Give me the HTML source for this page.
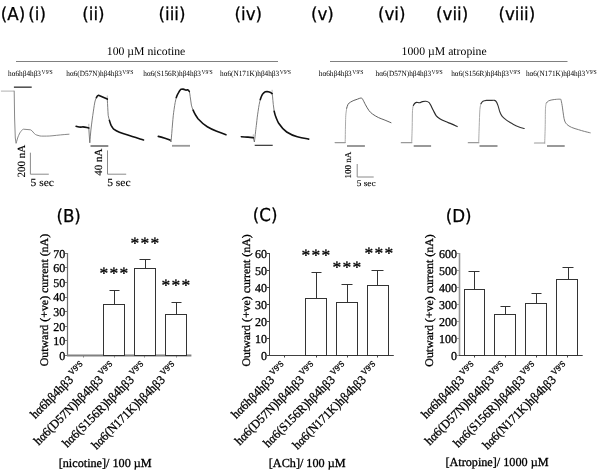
<!DOCTYPE html>
<html><head><meta charset="utf-8"><title>Figure</title>
<style>
html,body{margin:0;padding:0;background:#fff;overflow:hidden;width:600px;height:474px;}
svg{display:block;}
text{fill:#000;text-rendering:geometricPrecision;}
.tk,.yt,.xl,.xt{stroke:#000;stroke-width:0.3px;}
.sb{stroke:#000;stroke-width:0.12px;}
.pl{font-family:"DejaVu Sans", "Liberation Sans", sans-serif;stroke:#000;stroke-width:0.25px;}
.hd,.sl,.sb,.tk,.st,.xl,.yt,.xt{font-family:"Liberation Serif", "Times New Roman", serif;}
.sup{font-size:6.2px;}
.tk{font-size:12px;}
.st{font-size:17.5px;letter-spacing:1.3px;stroke:#000;stroke-width:0.3px;}
.xl{font-size:12.4px;}
.xsup{font-size:8.5px;}
</style></head>
<body>
<svg width="600" height="474" viewBox="0 0 600 474">
<rect width="600" height="474" fill="#fff"/>
<line x1="16" y1="61.5" x2="278" y2="61.5" stroke="#808080" stroke-width="1"/>
<line x1="330" y1="61.5" x2="567.5" y2="61.5" stroke="#808080" stroke-width="1"/>
<path d="M1.3,91.1 L13.7,91.1" fill="none" stroke="#b0b0b0" stroke-width="1" stroke-linejoin="round" stroke-linecap="round"/>
<path d="M14.2,91.1 L14.6,118 L15.3,138 L16.1,143.3 C16.8,141 17.8,137 18.7,135.3 C19.5,133.5 20.3,132 21,131.3 C21.8,130.2 22.5,129.4 23.5,129.2 L30.5,129.8 C31.5,130.3 32.3,131 33,132 C34,133.2 34.6,134 35.5,134.5 C36.5,135 37,135.2 38,135.4 C39.5,136 40.5,136.1 41.5,136.1 C45,136.1 48,136.2 52,135.8 C58,135.2 63,134.6 69,134.2" fill="none" stroke="#7a7a7a" stroke-width="0.9" stroke-linejoin="round" stroke-linecap="round"/>
<path d="M13.9,87.2 L31.7,87.2" fill="none" stroke="#555" stroke-width="1.6" stroke-linejoin="round" stroke-linecap="butt"/>
<path d="M88.8,128 L88.8,124.2" fill="none" stroke="#aaa" stroke-width="0.8" stroke-linejoin="round" stroke-linecap="round"/>
<path d="M107.3,99.1 L107.3,95.9" fill="none" stroke="#aaa" stroke-width="0.8" stroke-linejoin="round" stroke-linecap="round"/>
<path d="M88.8,128 L89.3,136 L89.8,142.8 C90.2,138 90.5,134 90.9,130 C91.7,123 92.5,117 93.4,111.1 C94,107 94.5,103.5 95.1,101 C95.5,99.5 95.9,98.5 96.4,97.6" fill="none" stroke="#6e6e6e" stroke-width="0.9" stroke-linejoin="round" stroke-linecap="round"/>
<path d="M107.3,99.1 C107.6,105 107.9,111 108.2,115.3 C108.6,117.5 109,119 109.4,120.4" fill="none" stroke="#6e6e6e" stroke-width="0.9" stroke-linejoin="round" stroke-linecap="round"/>
<path d="M76.1,126.3 C78,126.8 80,127.5 82,127 C84,126.6 86,127.4 88.8,128" fill="none" stroke="#111" stroke-width="1.6" stroke-linejoin="round" stroke-linecap="round"/>
<path d="M96.4,97.6 C97,96.3 97.7,95.3 98.5,95.2 L107.3,99.1" fill="none" stroke="#111" stroke-width="1.6" stroke-linejoin="round" stroke-linecap="round"/>
<path d="M109.4,120.4 C110,122.5 110.5,124 111.1,125.4 C112,127 112.8,128.3 113.7,129.2 C117,131.5 121,133.2 127,134.8 C132,136.5 138,138.3 143.5,140" fill="none" stroke="#111" stroke-width="1.6" stroke-linejoin="round" stroke-linecap="round"/>
<path d="M90.5,146 L108.3,146" fill="none" stroke="#8a8a8a" stroke-width="2" stroke-linejoin="round" stroke-linecap="butt"/>
<path d="M170,140 L171,142 C171.5,137 172,130 172.5,124 C173,118 173.5,113 174.1,109.3 C174.8,104 175.5,100.5 176.3,97.5" fill="none" stroke="#6e6e6e" stroke-width="0.9" stroke-linejoin="round" stroke-linecap="round"/>
<path d="M189.3,91.2 C189.7,93 190,95 190.2,96.7 C190.6,99.5 191,102.5 191.4,105.1 C191.9,107 192.4,108.7 193.1,110.2" fill="none" stroke="#6e6e6e" stroke-width="0.9" stroke-linejoin="round" stroke-linecap="round"/>
<path d="M158.3,136.4 C161,137 163,137.6 165,138.2 C167,138.8 168.5,139.3 170,140" fill="none" stroke="#111" stroke-width="1.6" stroke-linejoin="round" stroke-linecap="round"/>
<path d="M176.3,97.5 C177,95.5 177.6,94.2 178.4,92.9 C179.2,91.4 180,90.2 180.9,89.3 L183,89.1 C184.5,89.3 185.3,90.1 186,90.1 C186.6,90 187,89.7 187.6,89.8 C188.4,90.1 188.9,90.7 189.3,91.5" fill="none" stroke="#111" stroke-width="1.6" stroke-linejoin="round" stroke-linecap="round"/>
<path d="M193.1,110.2 C194,112 194.8,113.8 195.7,115.2 C196.5,116.5 197.2,117.7 198,118.7 C201,122 204,124.8 207.3,126.7 C210.5,128.6 213.5,130 216.7,131.3 C220,132.6 223,133.7 226,134.7" fill="none" stroke="#111" stroke-width="1.6" stroke-linejoin="round" stroke-linecap="round"/>
<path d="M172,145.8 L190,145.8" fill="none" stroke="#999" stroke-width="1.8" stroke-linejoin="round" stroke-linecap="butt"/>
<path d="M253.3,137.7 L253.3,134.7" fill="none" stroke="#aaa" stroke-width="0.8" stroke-linejoin="round" stroke-linecap="round"/>
<path d="M272.1,93.6 L272.1,90.2" fill="none" stroke="#aaa" stroke-width="0.8" stroke-linejoin="round" stroke-linecap="round"/>
<path d="M253.3,137.7 L254.4,142 C255.2,135 256,128 256.5,124 C257,119 257.5,115 258.1,111.3 C258.8,106 259.5,102.5 260.3,99.5" fill="none" stroke="#6e6e6e" stroke-width="0.9" stroke-linejoin="round" stroke-linecap="round"/>
<path d="M272.1,93.6 C272.3,94.5 272.4,95.3 272.5,96.1 C272.8,99 273,102 273.3,104.6 C273.6,107 273.9,109.3 274.2,111.3" fill="none" stroke="#6e6e6e" stroke-width="0.9" stroke-linejoin="round" stroke-linecap="round"/>
<path d="M241.3,136.7 C244,137 246,137.2 248,137.1 C250,137.1 251.5,137.4 253.3,137.7" fill="none" stroke="#111" stroke-width="1.6" stroke-linejoin="round" stroke-linecap="round"/>
<path d="M260.3,99.5 C260.9,97.5 261.6,95.8 262.4,94.4 C263.3,93 264.2,92.2 265.3,91.7 C266,91.5 266.5,91.5 267,91.5 C268,91.7 269,92 270,92.3 C270.8,92.7 271.5,93.1 272.1,93.6" fill="none" stroke="#111" stroke-width="1.6" stroke-linejoin="round" stroke-linecap="round"/>
<path d="M274.2,111.3 C274.8,114 275.5,116.3 276.3,118.1 C277,119.8 277.8,121.8 278.7,123.3 C281,126.8 283.5,129.8 286.7,132 C290,134.2 293.5,135.7 297.3,136.7 C301,137.7 305,138.4 308.7,139.1" fill="none" stroke="#111" stroke-width="1.6" stroke-linejoin="round" stroke-linecap="round"/>
<path d="M254.7,145.3 L272.7,145.3" fill="none" stroke="#222" stroke-width="1.1" stroke-linejoin="round" stroke-linecap="butt"/>
<path d="M335.1,142.6 L345.2,142.6" fill="none" stroke="#999" stroke-width="1.2" stroke-linejoin="round" stroke-linecap="round"/>
<path d="M345.20,142.60 C345.25,139.67 345.40,129.57 345.50,125.00 C345.60,120.43 345.60,118.00 345.80,115.20 C346.00,112.40 346.55,109.37 346.70,108.20" fill="none" stroke="#a0a0a0" stroke-width="0.9" stroke-linejoin="round" stroke-linecap="round"/>
<path d="M346.70,108.20 C346.93,107.53 347.48,105.20 348.10,104.20 C348.72,103.20 349.43,102.83 350.40,102.20 C351.37,101.57 352.73,100.90 353.90,100.40 C355.07,99.90 356.23,99.60 357.40,99.20 C358.57,98.80 360.03,98.00 360.90,98.00 C361.77,98.00 361.83,98.07 362.60,99.20 C363.37,100.33 364.43,102.90 365.50,104.80 C366.57,106.70 367.83,109.07 369.00,110.60 C370.17,112.13 370.95,112.85 372.50,114.00 C374.05,115.15 376.37,116.53 378.30,117.50 C380.23,118.47 381.98,118.93 384.10,119.80 C386.22,120.67 389.85,122.22 391.00,122.70" fill="none" stroke="#606060" stroke-width="1.0" stroke-linejoin="round" stroke-linecap="round"/>
<path d="M347,146 L364.9,146" fill="none" stroke="#999" stroke-width="2" stroke-linejoin="round" stroke-linecap="butt"/>
<path d="M401.3,142.7 L411.7,142.7" fill="none" stroke="#999" stroke-width="1.2" stroke-linejoin="round" stroke-linecap="round"/>
<path d="M411.70,142.70 C411.78,140.05 412.07,132.15 412.20,126.80 C412.33,121.45 412.30,114.18 412.50,110.60 C412.70,107.02 413.25,106.18 413.40,105.30" fill="none" stroke="#a0a0a0" stroke-width="0.9" stroke-linejoin="round" stroke-linecap="round"/>
<path d="M413.40,105.30 C413.65,104.97 414.37,103.78 414.90,103.30 C415.43,102.82 415.83,102.50 416.60,102.40 C417.37,102.30 418.53,102.83 419.50,102.70 C420.47,102.57 421.33,101.83 422.40,101.60 C423.47,101.37 424.83,101.17 425.90,101.30 C426.97,101.43 428.03,101.82 428.80,102.40 C429.57,102.98 429.73,103.43 430.50,104.80 C431.27,106.17 432.43,108.77 433.40,110.60 C434.37,112.43 435.23,114.45 436.30,115.80 C437.37,117.15 438.25,117.73 439.80,118.70 C441.35,119.67 443.67,120.73 445.60,121.60 C447.53,122.47 449.47,123.07 451.40,123.90 C453.33,124.73 456.23,126.15 457.20,126.60" fill="none" stroke="#2a2a2a" stroke-width="1.15" stroke-linejoin="round" stroke-linecap="round"/>
<path d="M413.7,146 L431.1,146" fill="none" stroke="#999" stroke-width="2" stroke-linejoin="round" stroke-linecap="butt"/>
<path d="M468.3,142.7 L478.7,142.7" fill="none" stroke="#999" stroke-width="1.2" stroke-linejoin="round" stroke-linecap="round"/>
<path d="M478.70,142.70 C478.78,140.05 479.00,132.35 479.20,126.80 C479.40,121.25 479.60,113.27 479.90,109.40 C480.20,105.53 480.82,104.57 481.00,103.60" fill="none" stroke="#a0a0a0" stroke-width="0.9" stroke-linejoin="round" stroke-linecap="round"/>
<path d="M481.00,103.60 C481.33,103.22 482.08,101.83 483.00,101.30 C483.92,100.77 485.23,100.55 486.50,100.40 C487.77,100.25 489.25,100.40 490.60,100.40 C491.95,100.40 493.63,100.15 494.60,100.40 C495.57,100.65 495.82,100.98 496.40,101.90 C496.98,102.82 497.53,104.27 498.10,105.90 C498.67,107.53 499.12,109.95 499.80,111.70 C500.48,113.45 501.03,114.95 502.20,116.40 C503.37,117.85 505.07,119.15 506.80,120.40 C508.53,121.65 510.67,122.83 512.60,123.90 C514.53,124.97 516.47,126.03 518.40,126.80 C520.33,127.57 523.23,128.22 524.20,128.50" fill="none" stroke="#353535" stroke-width="1.1" stroke-linejoin="round" stroke-linecap="round"/>
<path d="M479.5,146 L497.5,146" fill="none" stroke="#999" stroke-width="2" stroke-linejoin="round" stroke-linecap="butt"/>
<path d="M534.5,143 L544.7,143" fill="none" stroke="#999" stroke-width="1.2" stroke-linejoin="round" stroke-linecap="round"/>
<path d="M544.70,143.00 C544.78,140.30 545.07,132.60 545.20,126.80 C545.33,121.00 545.30,112.17 545.50,108.20 C545.70,104.23 546.25,103.87 546.40,103.00" fill="none" stroke="#a0a0a0" stroke-width="0.9" stroke-linejoin="round" stroke-linecap="round"/>
<path d="M546.40,103.00 C546.73,102.67 547.48,101.52 548.40,101.00 C549.32,100.48 550.53,100.18 551.90,99.90 C553.27,99.62 555.15,99.40 556.60,99.30 C558.05,99.20 559.83,99.07 560.60,99.30 C561.37,99.53 560.90,99.40 561.20,100.70 C561.50,102.00 562.02,104.68 562.40,107.10 C562.78,109.52 563.12,112.88 563.50,115.20 C563.88,117.52 564.12,119.45 564.70,121.00 C565.28,122.55 565.85,123.43 567.00,124.50 C568.15,125.57 569.67,126.53 571.60,127.40 C573.53,128.27 576.47,129.03 578.60,129.70 C580.73,130.37 582.47,130.88 584.40,131.40 C586.33,131.92 589.23,132.57 590.20,132.80" fill="none" stroke="#747474" stroke-width="0.95" stroke-linejoin="round" stroke-linecap="round"/>
<path d="M547,146 L564.7,146" fill="none" stroke="#999" stroke-width="2" stroke-linejoin="round" stroke-linecap="butt"/>
<path d="M30.4,152.7 L30.4,174.2 L48.8,174.2" fill="none" stroke="#8a8a8a" stroke-width="1"/>
<path d="M107.5,150.4 L107.5,174.2 L126.2,174.2" fill="none" stroke="#8a8a8a" stroke-width="1"/>
<path d="M357.2,164 L357.2,177 L373.7,177" fill="none" stroke="#8a8a8a" stroke-width="1"/>
<line x1="65.0" y1="355.5" x2="67.5" y2="355.5" stroke="#707070" stroke-width="1"/>
<text x="65.20" y="359.85" text-anchor="end" class="tk">0</text>
<line x1="65.0" y1="340.5" x2="67.5" y2="340.5" stroke="#707070" stroke-width="1"/>
<text x="65.20" y="345.25" text-anchor="end" class="tk">10</text>
<line x1="65.0" y1="326.5" x2="67.5" y2="326.5" stroke="#707070" stroke-width="1"/>
<text x="65.20" y="330.65" text-anchor="end" class="tk">20</text>
<line x1="65.0" y1="311.5" x2="67.5" y2="311.5" stroke="#707070" stroke-width="1"/>
<text x="65.20" y="316.05" text-anchor="end" class="tk">30</text>
<line x1="65.0" y1="297.5" x2="67.5" y2="297.5" stroke="#707070" stroke-width="1"/>
<text x="65.20" y="301.45" text-anchor="end" class="tk">40</text>
<line x1="65.0" y1="282.5" x2="67.5" y2="282.5" stroke="#707070" stroke-width="1"/>
<text x="65.20" y="286.85" text-anchor="end" class="tk">50</text>
<line x1="65.0" y1="267.5" x2="67.5" y2="267.5" stroke="#707070" stroke-width="1"/>
<text x="65.20" y="272.25" text-anchor="end" class="tk">60</text>
<line x1="65.0" y1="253.5" x2="67.5" y2="253.5" stroke="#707070" stroke-width="1"/>
<text x="65.20" y="257.65" text-anchor="end" class="tk">70</text>
<line x1="67.5" y1="253.0" x2="67.5" y2="355.5" stroke="#707070" stroke-width="1.2"/>
<line x1="67.0" y1="355.5" x2="191.4" y2="355.5" stroke="#808080" stroke-width="1.8"/>
<line x1="83.5" y1="355.5" x2="83.5" y2="357.5" stroke="#808080" stroke-width="1"/>
<line x1="114.5" y1="355.5" x2="114.5" y2="357.5" stroke="#808080" stroke-width="1"/>
<line x1="144.5" y1="355.5" x2="144.5" y2="357.5" stroke="#808080" stroke-width="1"/>
<line x1="176.5" y1="355.5" x2="176.5" y2="357.5" stroke="#808080" stroke-width="1"/>
<line x1="114.5" y1="304.5" x2="114.5" y2="290.5" stroke="#333" stroke-width="1"/>
<line x1="109.5" y1="290.5" x2="119.5" y2="290.5" stroke="#333" stroke-width="1"/>
<rect x="103.5" y="304.5" width="21.0" height="51.0" fill="#fff" stroke="#333" stroke-width="1"/>
<line x1="145.5" y1="268.5" x2="145.5" y2="259.5" stroke="#333" stroke-width="1"/>
<line x1="139.5" y1="259.5" x2="150.5" y2="259.5" stroke="#333" stroke-width="1"/>
<rect x="134.5" y="268.5" width="21.0" height="87.0" fill="#fff" stroke="#333" stroke-width="1"/>
<line x1="176.5" y1="314.5" x2="176.5" y2="302.5" stroke="#333" stroke-width="1"/>
<line x1="171.5" y1="302.5" x2="181.5" y2="302.5" stroke="#333" stroke-width="1"/>
<rect x="165.5" y="314.5" width="21.0" height="41.0" fill="#fff" stroke="#333" stroke-width="1"/>
<text x="114.6" y="279" text-anchor="middle" class="st">***</text>
<text x="145.5" y="249.2" text-anchor="middle" class="st">***</text>
<text x="176.5" y="291.2" text-anchor="middle" class="st">***</text>
<text transform="translate(86.7,367.8) rotate(-45) scale(0.97,1)" text-anchor="end" class="xl">hα6hβ4hβ3<tspan class="xsup" dy="-4.9" dx="2">V9'S</tspan></text>
<text transform="translate(116.5,367.8) rotate(-45) scale(0.97,1)" text-anchor="end" class="xl">hα6(D57N)hβ4hβ3<tspan class="xsup" dy="-4.9" dx="2">V9'S</tspan></text>
<text transform="translate(147.5,367.8) rotate(-45) scale(0.97,1)" text-anchor="end" class="xl">hα6(S156R)hβ4hβ3<tspan class="xsup" dy="-4.9" dx="2">V9'S</tspan></text>
<text transform="translate(178.5,367.8) rotate(-45) scale(0.97,1)" text-anchor="end" class="xl">hα6(N171K)hβ4hβ3<tspan class="xsup" dy="-4.9" dx="2">V9'S</tspan></text>
<line x1="267.0" y1="355.5" x2="269.5" y2="355.5" stroke="#404040" stroke-width="1"/>
<text x="266.90" y="359.75" text-anchor="end" class="tk">0</text>
<line x1="267.0" y1="338.5" x2="269.5" y2="338.5" stroke="#404040" stroke-width="1"/>
<text x="266.90" y="342.75" text-anchor="end" class="tk">10</text>
<line x1="267.0" y1="321.5" x2="269.5" y2="321.5" stroke="#404040" stroke-width="1"/>
<text x="266.90" y="325.75" text-anchor="end" class="tk">20</text>
<line x1="267.0" y1="304.5" x2="269.5" y2="304.5" stroke="#404040" stroke-width="1"/>
<text x="266.90" y="308.75" text-anchor="end" class="tk">30</text>
<line x1="267.0" y1="287.5" x2="269.5" y2="287.5" stroke="#404040" stroke-width="1"/>
<text x="266.90" y="291.75" text-anchor="end" class="tk">40</text>
<line x1="267.0" y1="270.5" x2="269.5" y2="270.5" stroke="#404040" stroke-width="1"/>
<text x="266.90" y="274.75" text-anchor="end" class="tk">50</text>
<line x1="267.0" y1="253.5" x2="269.5" y2="253.5" stroke="#404040" stroke-width="1"/>
<text x="266.90" y="257.75" text-anchor="end" class="tk">60</text>
<line x1="269.5" y1="253.0" x2="269.5" y2="355.5" stroke="#404040" stroke-width="1"/>
<line x1="269.0" y1="355.5" x2="393.8" y2="355.5" stroke="#404040" stroke-width="1.2"/>
<line x1="284.5" y1="355.5" x2="284.5" y2="357.5" stroke="#404040" stroke-width="1"/>
<line x1="316.5" y1="355.5" x2="316.5" y2="357.5" stroke="#404040" stroke-width="1"/>
<line x1="347.5" y1="355.5" x2="347.5" y2="357.5" stroke="#404040" stroke-width="1"/>
<line x1="377.5" y1="355.5" x2="377.5" y2="357.5" stroke="#404040" stroke-width="1"/>
<line x1="316.5" y1="298.5" x2="316.5" y2="272.5" stroke="#333" stroke-width="1"/>
<line x1="311.5" y1="272.5" x2="321.5" y2="272.5" stroke="#333" stroke-width="1"/>
<rect x="305.5" y="298.5" width="21.0" height="57.0" fill="#fff" stroke="#333" stroke-width="1"/>
<line x1="347.5" y1="302.5" x2="347.5" y2="284.5" stroke="#333" stroke-width="1"/>
<line x1="341.5" y1="284.5" x2="352.5" y2="284.5" stroke="#333" stroke-width="1"/>
<rect x="336.5" y="302.5" width="21.0" height="53.0" fill="#fff" stroke="#333" stroke-width="1"/>
<line x1="377.5" y1="285.5" x2="377.5" y2="270.5" stroke="#333" stroke-width="1"/>
<line x1="371.5" y1="270.5" x2="383.5" y2="270.5" stroke="#333" stroke-width="1"/>
<rect x="367.5" y="285.5" width="21.0" height="70.0" fill="#fff" stroke="#333" stroke-width="1"/>
<text x="316.5" y="261" text-anchor="middle" class="st">***</text>
<text x="347.5" y="273.4" text-anchor="middle" class="st">***</text>
<text x="379.5" y="259.3" text-anchor="middle" class="st">***</text>
<text transform="translate(287.7,367.8) rotate(-45) scale(0.97,1)" text-anchor="end" class="xl">hα6hβ4hβ3<tspan class="xsup" dy="-4.9" dx="2">V9'S</tspan></text>
<text transform="translate(317.5,367.8) rotate(-45) scale(0.97,1)" text-anchor="end" class="xl">hα6(D57N)hβ4hβ3<tspan class="xsup" dy="-4.9" dx="2">V9'S</tspan></text>
<text transform="translate(348.5,367.8) rotate(-45) scale(0.97,1)" text-anchor="end" class="xl">hα6(S156R)hβ4hβ3<tspan class="xsup" dy="-4.9" dx="2">V9'S</tspan></text>
<text transform="translate(379.5,367.8) rotate(-45) scale(0.97,1)" text-anchor="end" class="xl">hα6(N171K)hβ4hβ3<tspan class="xsup" dy="-4.9" dx="2">V9'S</tspan></text>
<line x1="457.0" y1="355.5" x2="459.5" y2="355.5" stroke="#999" stroke-width="1"/>
<text x="456.90" y="359.75" text-anchor="end" class="tk">0</text>
<line x1="457.0" y1="338.5" x2="459.5" y2="338.5" stroke="#999" stroke-width="1"/>
<text x="456.90" y="342.73" text-anchor="end" class="tk">100</text>
<line x1="457.0" y1="321.5" x2="459.5" y2="321.5" stroke="#999" stroke-width="1"/>
<text x="456.90" y="325.72" text-anchor="end" class="tk">200</text>
<line x1="457.0" y1="304.5" x2="459.5" y2="304.5" stroke="#999" stroke-width="1"/>
<text x="456.90" y="308.70" text-anchor="end" class="tk">300</text>
<line x1="457.0" y1="287.5" x2="459.5" y2="287.5" stroke="#999" stroke-width="1"/>
<text x="456.90" y="291.68" text-anchor="end" class="tk">400</text>
<line x1="457.0" y1="270.5" x2="459.5" y2="270.5" stroke="#999" stroke-width="1"/>
<text x="456.90" y="274.67" text-anchor="end" class="tk">500</text>
<line x1="457.0" y1="253.5" x2="459.5" y2="253.5" stroke="#999" stroke-width="1"/>
<text x="456.90" y="257.65" text-anchor="end" class="tk">600</text>
<line x1="459.5" y1="253.0" x2="459.5" y2="355.5" stroke="#999" stroke-width="1.6"/>
<line x1="459.0" y1="355.5" x2="582.7" y2="355.5" stroke="#404040" stroke-width="1"/>
<line x1="474.5" y1="355.5" x2="474.5" y2="357.5" stroke="#404040" stroke-width="1"/>
<line x1="505.5" y1="355.5" x2="505.5" y2="357.5" stroke="#404040" stroke-width="1"/>
<line x1="536.5" y1="355.5" x2="536.5" y2="357.5" stroke="#404040" stroke-width="1"/>
<line x1="567.5" y1="355.5" x2="567.5" y2="357.5" stroke="#404040" stroke-width="1"/>
<line x1="474.5" y1="289.5" x2="474.5" y2="271.5" stroke="#333" stroke-width="1"/>
<line x1="468.5" y1="271.5" x2="479.5" y2="271.5" stroke="#333" stroke-width="1"/>
<rect x="464.5" y="289.5" width="20.0" height="66.0" fill="#fff" stroke="#333" stroke-width="1"/>
<line x1="505.5" y1="314.5" x2="505.5" y2="306.5" stroke="#333" stroke-width="1"/>
<line x1="500.5" y1="306.5" x2="510.5" y2="306.5" stroke="#333" stroke-width="1"/>
<rect x="494.5" y="314.5" width="21.0" height="41.0" fill="#fff" stroke="#333" stroke-width="1"/>
<line x1="536.5" y1="303.5" x2="536.5" y2="293.5" stroke="#333" stroke-width="1"/>
<line x1="531.5" y1="293.5" x2="541.5" y2="293.5" stroke="#333" stroke-width="1"/>
<rect x="525.5" y="303.5" width="21.0" height="52.0" fill="#fff" stroke="#333" stroke-width="1"/>
<line x1="568.5" y1="279.5" x2="568.5" y2="267.5" stroke="#333" stroke-width="1"/>
<line x1="562.5" y1="267.5" x2="573.5" y2="267.5" stroke="#333" stroke-width="1"/>
<rect x="556.5" y="279.5" width="21.0" height="76.0" fill="#fff" stroke="#333" stroke-width="1"/>
<text transform="translate(477.7,367.8) rotate(-45) scale(0.97,1)" text-anchor="end" class="xl">hα6hβ4hβ3<tspan class="xsup" dy="-4.9" dx="2">V9'S</tspan></text>
<text transform="translate(507.5,367.8) rotate(-45) scale(0.97,1)" text-anchor="end" class="xl">hα6(D57N)hβ4hβ3<tspan class="xsup" dy="-4.9" dx="2">V9'S</tspan></text>
<text transform="translate(538.5,367.8) rotate(-45) scale(0.97,1)" text-anchor="end" class="xl">hα6(S156R)hβ4hβ3<tspan class="xsup" dy="-4.9" dx="2">V9'S</tspan></text>
<text transform="translate(569.5,367.8) rotate(-45) scale(0.97,1)" text-anchor="end" class="xl">hα6(N171K)hβ4hβ3<tspan class="xsup" dy="-4.9" dx="2">V9'S</tspan></text>
<text id="pl_A" class="pl" transform="translate(0.80,20.00) scale(1.0300,1.1000)" style="font-size:16.20px">(A)</text>
<text id="pl_i" class="pl" transform="translate(28.30,20.00) scale(1.0300,1.1000)" style="font-size:16.20px">(i)</text>
<text id="pl_ii" class="pl" transform="translate(82.30,20.00) scale(1.0300,1.1000)" style="font-size:16.20px">(ii)</text>
<text id="pl_iii" class="pl" transform="translate(158.50,19.50) scale(1.0300,1.1000)" style="font-size:16.20px">(iii)</text>
<text id="pl_iv" class="pl" transform="translate(234.60,19.50) scale(1.0300,1.1000)" style="font-size:16.20px">(iv)</text>
<text id="pl_v" class="pl" transform="translate(311.00,19.50) scale(1.0300,1.1000)" style="font-size:16.20px">(v)</text>
<text id="pl_vi" class="pl" transform="translate(377.90,19.50) scale(1.0300,1.1000)" style="font-size:16.20px">(vi)</text>
<text id="pl_vii" class="pl" transform="translate(436.10,19.50) scale(1.0300,1.1000)" style="font-size:16.20px">(vii)</text>
<text id="pl_viii" class="pl" transform="translate(498.40,19.50) scale(1.0300,1.1000)" style="font-size:16.20px">(viii)</text>
<text id="pl_B" class="pl" transform="translate(56.40,222.10) scale(1.0300,1.1000)" style="font-size:16.20px">(B)</text>
<text id="pl_C" class="pl" transform="translate(252.80,221.40) scale(1.0300,1.1000)" style="font-size:16.20px">(C)</text>
<text id="pl_D" class="pl" transform="translate(445.70,222.10) scale(1.0300,1.1000)" style="font-size:16.20px">(D)</text>
<text id="hd_nic" class="hd" transform="translate(106.80,54.80) scale(0.9950,1.0000)" style="font-size:11.80px">100 µM nicotine</text>
<text id="hd_atr" class="hd" transform="translate(401.60,54.80) scale(0.9950,1.0000)" style="font-size:11.80px">1000 µM atropine</text>
<text id="sl_0" class="sl" transform="translate(8.00,76.40) scale(0.9200,1.0000)" style="font-size:7.90px">hα6hβ4hβ3<tspan class="sup" dy="-2.4" dx="0.6">V9'S</tspan></text>
<text id="sl_1" class="sl" transform="translate(66.25,76.40) scale(0.9200,1.0000)" style="font-size:7.90px">hα6(D57N)hβ4hβ3<tspan class="sup" dy="-2.4" dx="0.6">V9'S</tspan></text>
<text id="sl_2" class="sl" transform="translate(143.30,76.40) scale(0.9200,1.0000)" style="font-size:7.90px">hα6(S156R)hβ4hβ3<tspan class="sup" dy="-2.4" dx="0.6">V9'S</tspan></text>
<text id="sl_3" class="sl" transform="translate(220.00,76.40) scale(0.9200,1.0000)" style="font-size:7.90px">hα6(N171K)hβ4hβ3<tspan class="sup" dy="-2.4" dx="0.6">V9'S</tspan></text>
<text id="sl_4" class="sl" transform="translate(318.75,76.40) scale(0.9200,1.0000)" style="font-size:7.90px">hα6hβ4hβ3<tspan class="sup" dy="-2.4" dx="0.6">V9'S</tspan></text>
<text id="sl_5" class="sl" transform="translate(375.50,76.40) scale(0.9200,1.0000)" style="font-size:7.90px">hα6(D57N)hβ4hβ3<tspan class="sup" dy="-2.4" dx="0.6">V9'S</tspan></text>
<text id="sl_6" class="sl" transform="translate(451.20,76.40) scale(0.9200,1.0000)" style="font-size:7.90px">hα6(S156R)hβ4hβ3<tspan class="sup" dy="-2.4" dx="0.6">V9'S</tspan></text>
<text id="sl_7" class="sl" transform="translate(525.90,76.40) scale(0.9200,1.0000)" style="font-size:7.90px">hα6(N171K)hβ4hβ3<tspan class="sup" dy="-2.4" dx="0.6">V9'S</tspan></text>
<text id="sb_200" class="sb" transform="translate(25.00,161.20) rotate(-90)" style="font-size:11.00px" text-anchor="middle">200 nA</text>
<text id="sb_5a" class="sb" transform="translate(30.50,185.50) scale(1.0500,1.0000)" style="font-size:11.00px">5 sec</text>
<text id="sb_40" class="sb" transform="translate(101.90,162.10) rotate(-90)" style="font-size:11.00px" text-anchor="middle">40 nA</text>
<text id="sb_5b" class="sb" transform="translate(107.20,186.30) scale(1.0500,1.0000)" style="font-size:11.00px">5 sec</text>
<text id="sb_100" class="sb" transform="translate(351.30,165.10) rotate(-90)" style="font-size:9.00px" text-anchor="middle">100 nA</text>
<text id="sb_5c" class="sb" transform="translate(356.70,186.20) scale(1.0800,1.0000)" style="font-size:8.60px">5 sec</text>
<text id="yt_0" class="yt" transform="translate(48.20,300.10) rotate(-90) scale(1.0330,1.0000)" style="font-size:11.50px" text-anchor="middle">Outward (+ve) current (nA)</text>
<text id="yt_1" class="yt" transform="translate(250.20,300.40) rotate(-90) scale(1.0330,1.0000)" style="font-size:11.50px" text-anchor="middle">Outward (+ve) current (nA)</text>
<text id="yt_2" class="yt" transform="translate(432.80,300.50) rotate(-90) scale(1.0330,1.0000)" style="font-size:11.50px" text-anchor="middle">Outward (+ve) current (nA)</text>
<text id="xt_0" class="xt" transform="translate(58.70,466.50)" style="font-size:12.20px">[nicotine]/ 100 µM</text>
<text id="xt_1" class="xt" transform="translate(268.80,466.50)" style="font-size:12.20px">[ACh]/ 100 µM</text>
<text id="xt_2" class="xt" transform="translate(445.40,465.60)" style="font-size:12.20px">[Atropine]/ 1000 µM</text>
</svg>
</body></html>
